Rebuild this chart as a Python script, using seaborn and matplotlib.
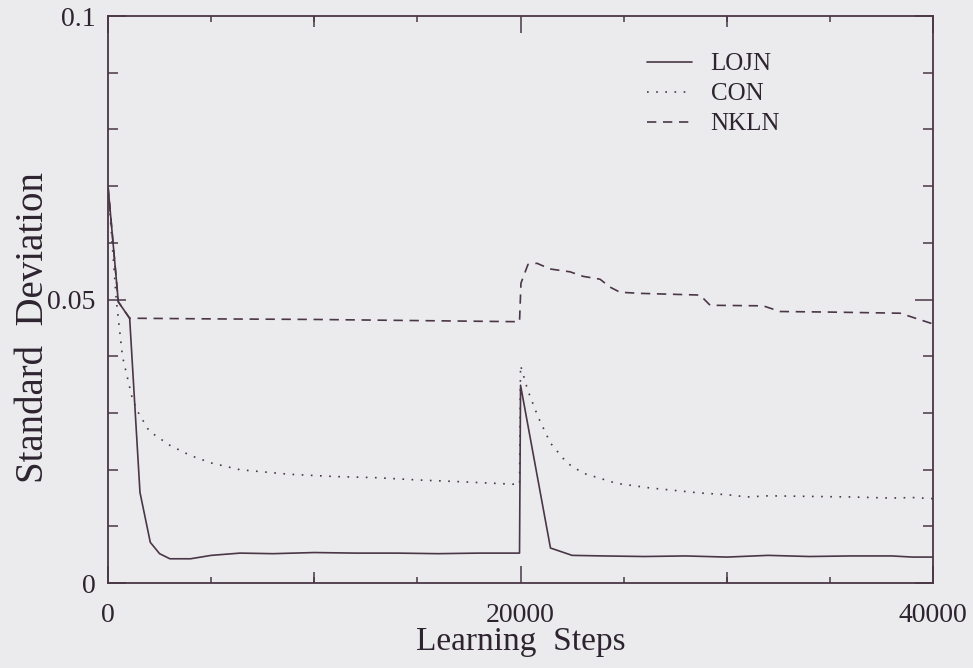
import matplotlib
matplotlib.use("Agg")
import matplotlib.pyplot as plt
from matplotlib.ticker import MultipleLocator, FixedLocator, FuncFormatter
import numpy as np
import pandas as pd
import seaborn as sns

# Standard deviation of the weights over the learning run (load change at step 20000)
lojn_steps = [0, 500, 1050, 1550, 2050, 2500, 3000, 4000, 5000, 6400, 8000, 10000,
              12000, 14000, 16000, 18000, 19950, 20000, 21450, 22500, 24000, 26000,
              28000, 30000, 32000, 34000, 36000, 38000, 39000, 40000]
lojn_vals = [0.070, 0.0496, 0.0467, 0.0160, 0.0072, 0.0052, 0.0043, 0.0043, 0.0049,
             0.0053, 0.0052, 0.0054, 0.0053, 0.0053, 0.0052, 0.0053, 0.0053, 0.0349,
             0.0062, 0.0049, 0.0048, 0.0047, 0.0048, 0.0046, 0.0049, 0.0047, 0.0048,
             0.0048, 0.0046, 0.0046]

con_steps = [0, 400, 700, 1150, 1400, 2000, 3000, 4000, 5000, 6400, 8800, 11000,
             13000, 15000, 17000, 19950, 20000, 20350, 20850, 21450, 22250, 23030,
             24650, 26250, 28700, 30000, 31000, 32000, 34000, 36000, 38000, 39000, 40000]
con_vals = [0.070, 0.050, 0.040, 0.0330, 0.0305, 0.0268, 0.0243, 0.0225, 0.0212,
            0.0200, 0.0192, 0.0188, 0.0186, 0.0182, 0.0179, 0.0174, 0.0384, 0.0340,
            0.0293, 0.0247, 0.0212, 0.0194, 0.0176, 0.0168, 0.0159, 0.0156, 0.0152,
            0.0154, 0.0153, 0.0152, 0.0150, 0.0151, 0.0149]

nkln_steps = [0, 500, 1050, 1600, 5000, 10000, 15000, 19950, 20020, 20360, 20800,
              21430, 22400, 23030, 23850, 24340, 24820, 25790, 28700, 29190, 31760,
              32580, 35000, 38400, 40000]
nkln_vals = [0.070, 0.0496, 0.0467, 0.0467, 0.0466, 0.0465, 0.0463, 0.0461, 0.0529,
             0.0562, 0.0564, 0.0554, 0.0549, 0.0541, 0.0536, 0.0522, 0.0513, 0.0511,
             0.0508, 0.0490, 0.0489, 0.0479, 0.0478, 0.0476, 0.0457]

series_names = ["LOJN", "CON", "NKLN"]
x_ticks = [0, 20000, 40000]
y_ticks = [0, 0.05, 0.1]
y_tick_labels = ["0", "0.05", "0.1"]

frames = []
for name, st, vals in zip(series_names,
                          [lojn_steps, con_steps, nkln_steps],
                          [lojn_vals, con_vals, nkln_vals]):
    frames.append(pd.DataFrame({"step": st, "sd": vals, "method": name}))
df = pd.concat(frames, ignore_index=True)

sns.set_theme(style="ticks")
plt.rcParams["font.family"] = ["Liberation Serif", "DejaVu Serif"]

bg = "#ebebee"
ink = "#4a3646"
text_ink = "#2e2430"

fig = plt.figure(figsize=(9.73, 6.68), dpi=100, facecolor=bg)
ax = fig.add_axes([0.111, 0.127, 0.848, 0.849])
ax.set_facecolor(bg)

dash_map = {"LOJN": "", "CON": (1, 4.5), "NKLN": (5.6, 4)}
sns.lineplot(data=df, x="step", y="sd", style="method", style_order=series_names,
             dashes=dash_map, color=ink, estimator=None, sort=False,
             linewidth=1.2, legend=False, ax=ax)

ax.set_xlim(0, 40000)
ax.set_ylim(0, 0.1)

# frame
for sp in ax.spines.values():
    sp.set_visible(True)
    sp.set_color(ink)
    sp.set_linewidth(1.3)

# ticks: inward on all four sides
ax.xaxis.set_major_locator(FixedLocator(x_ticks))
ax.xaxis.set_minor_locator(MultipleLocator(5000))
ax.yaxis.set_major_locator(FixedLocator(y_ticks))
ax.yaxis.set_minor_locator(MultipleLocator(0.01))
ax.yaxis.set_major_formatter(FuncFormatter(
    lambda v, p: y_tick_labels[y_ticks.index(round(v, 3))] if round(v, 3) in y_ticks else ""))
ax.tick_params(axis="both", which="both", direction="in", colors=ink,
               top=True, right=True, width=1.1, labelcolor=text_ink, labelsize=20)
ax.tick_params(axis="x", which="major", length=12, pad=14)
ax.tick_params(axis="x", which="minor", length=4)
ax.tick_params(axis="y", which="major", length=13, pad=9)
ax.tick_params(axis="y", which="minor", length=7)

# intermediate marks every 10000 steps
for loc in ("bottom", "top"):
    sec = ax.secondary_xaxis(loc)
    sec.set_xticks([10000, 30000])
    sec.tick_params(direction="in", length=8, width=1.1, colors=ink,
                    labelbottom=False, labeltop=False)
    sec.spines[loc].set_visible(False)

ax.set_xlabel("Learning  Steps", fontsize=24, color=text_ink)
ax.xaxis.set_label_coords(0.5, -0.077)
ax.set_ylabel("Standard  Deviation", fontsize=28, color=text_ink)
ax.yaxis.set_label_coords(-0.068, 0.45)

handles = ax.get_lines()[:3]
leg = ax.legend(handles, series_names, loc="upper left",
                bbox_to_anchor=(0.653, 0.935), frameon=False, fontsize=18,
                handlelength=1.8, handletextpad=0.75, labelspacing=0.3,
                borderpad=0, borderaxespad=0)
for t in leg.get_texts():
    t.set_color(text_ink)

fig.savefig("out.png", dpi=100, facecolor=bg)
